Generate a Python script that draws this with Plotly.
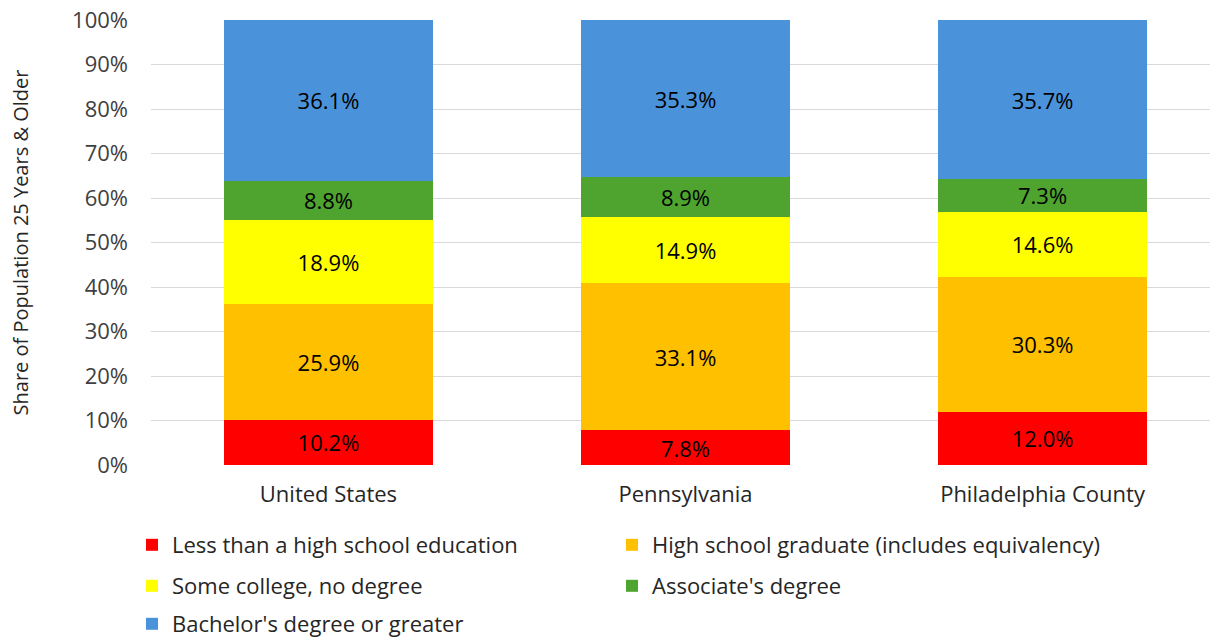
import plotly.graph_objects as go

categories = ["United States", "Pennsylvania", "Philadelphia County"]
series_names = [
    "Less than a high school education",
    "High school graduate (includes equivalency)",
    "Some college, no degree",
    "Associate's degree",
    "Bachelor's degree or greater",
]
less_hs = [10.2, 7.8, 12.0]
hs_grad = [25.9, 33.1, 30.3]
some_college = [18.9, 14.9, 14.6]
associate = [8.8, 8.9, 7.3]
bachelor = [36.1, 35.3, 35.7]
y_ticks = [0, 10, 20, 30, 40, 50, 60, 70, 80, 90, 100]
y_tick_labels = [f"{v}%" for v in y_ticks]

series_values = [less_hs, hs_grad, some_college, associate, bachelor]
colors = ["#FF0000", "#FFC000", "#FFFF00", "#4EA42F", "#4A93DB"]
legend_ids = ["legend", "legend4", "legend2", "legend5", "legend3"]

FONT = "Open Sans"
FS = 22
fig = go.Figure()
for name, vals, col, lg in zip(series_names, series_values, colors, legend_ids):
    fig.add_trace(go.Bar(
        x=categories, y=vals, name=name, marker=dict(color=col, line=dict(width=0)),
        width=0.585, text=[f"{v:.1f}%" for v in vals], textposition="inside",
        insidetextanchor="middle", textangle=0, constraintext="none",
        textfont=dict(family=FONT, size=FS, color="#000000"),
        legend=lg,
    ))

leg_common = dict(orientation="h", xref="container", yref="container",
                  xanchor="left", yanchor="middle",
                  font=dict(family=FONT, size=FS, color="#262626"),
                  itemwidth=30, bgcolor="rgba(0,0,0,0)")
x1 = 132 / 1210
x2 = 612 / 1210
fig.update_layout(
    width=1210, height=639,
    margin=dict(l=151, r=0, t=20, b=173.5),
    paper_bgcolor="white", plot_bgcolor="white",
    barmode="stack", barnorm="percent", showlegend=True,
    uniformtext=dict(mode=False),
    font=dict(family=FONT, size=FS, color="#404040"),
    xaxis=dict(range=[-0.497, 2.469], showgrid=False, zeroline=False, showline=False,
               ticks="", automargin=False, ticklabelstandoff=14,
               tickfont=dict(family=FONT, size=FS, color="#262626")),
    yaxis=dict(range=[0, 100], tickvals=y_ticks, ticktext=y_tick_labels,
               showgrid=True, gridcolor="#D9D9D9", gridwidth=1, zeroline=False,
               showline=False, ticks="", ticklabelstandoff=22, automargin=False,
               tickfont=dict(family=FONT, size=FS, color="#404040"),
               title=dict(text="Share of Population 25 Years & Older", standoff=38,
                          font=dict(family=FONT, size=20, color="#262626"))),
    legend=dict(leg_common, x=x1, y=1 - 545 / 639),
    legend2=dict(leg_common, x=x1, y=1 - 586 / 639),
    legend3=dict(leg_common, x=x1, y=1 - 624 / 639),
    legend4=dict(leg_common, x=x2, y=1 - 545 / 639),
    legend5=dict(leg_common, x=x2, y=1 - 586 / 639),
)
fig.write_html("out.html", config={"displayModeBar": False},
               post_script="document.body.style.margin='0';")
